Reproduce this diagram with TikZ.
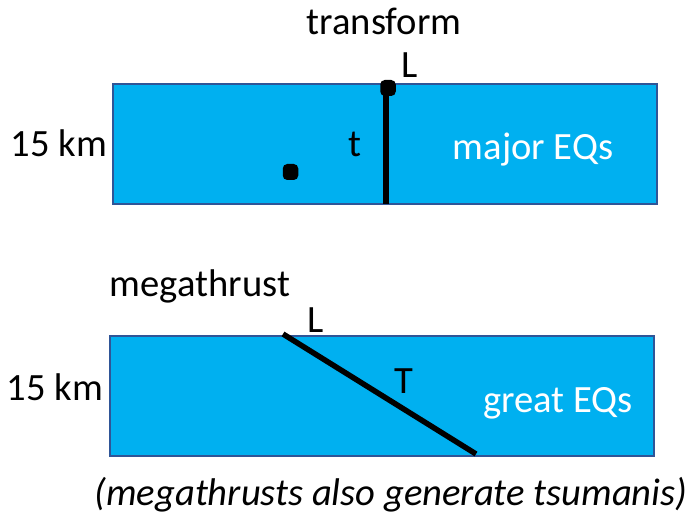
\documentclass[tikz,border=0pt]{standalone}
\usepackage{fontspec}
\setmainfont{Carlito}
\begin{document}
\begin{tikzpicture}[x=1pt,y=-1pt,
  lbl/.style={font=\fontsize{38.6}{42}\selectfont,inner sep=0pt,anchor=base},
  wlbl/.style={lbl,text=white},
  block/.style={draw=blockedge,fill=blockfill,line width=1.5pt},
  dotbox/.style={fill=black,rounded corners=4.5pt,minimum width=15.5pt,minimum height=16pt,inner sep=0pt},
  fault/.style={line width=5.5pt}]
\definecolor{blockfill}{HTML}{00B0F0}
\definecolor{blockedge}{HTML}{2F5597}
\useasboundingbox (0,0) rectangle (690,518);
% top block
\draw[block] (113,84) rectangle (657,204);
\node[lbl] (tr) at (384,35) {transform};
\node[lbl] (L1) at (410,78) {L};
\node[lbl] (km1) at (59,157) {15 km};
\node[lbl] (t) at (355,157) {t};
\node[wlbl] (maj) at (533,160) {major EQs};
\coordinate (fb) at (386,204);
\coordinate (ft) at (386,88);
\draw[fault] (ft) -- (fb);
\node[dotbox] (d1) at (388,88) {};
\node[dotbox] (d2) at (290.5,172) {};
% bottom block
\draw[block] (110,336) rectangle (654,456);
\node[lbl] (mg) at (200,297) {megathrust};
\node[lbl] (L2) at (316,332) {L};
\node[lbl] (km2) at (55,400) {15 km};
\node[lbl] (T) at (404,393) {T};
\node[wlbl] (gr) at (558,412) {great EQs};
\coordinate (ma) at (283,334);
\coordinate (mb) at (476,454);
\draw[fault] (ma) -- (mb);
\node[lbl,font=\fontsize{38.6}{42}\selectfont\itshape] (note) at (391,505) {(megathrusts also generate tsumanis)};
\end{tikzpicture}
\end{document}
